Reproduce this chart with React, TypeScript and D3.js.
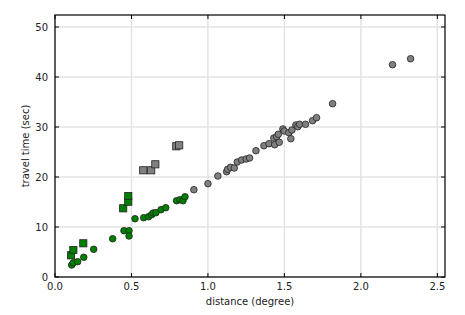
import React from "react";
import * as d3 from "d3";

const greenCircleX = [0.109, 0.12, 0.148, 0.188, 0.253, 0.377, 0.451, 0.484, 0.484, 0.523, 0.58, 0.612, 0.632, 0.642, 0.66, 0.693, 0.724, 0.795, 0.817, 0.837, 0.85];
const greenCircleY = [2.4, 2.86, 3.06, 3.94, 5.54, 7.66, 9.26, 9.26, 8.2, 11.66, 11.86, 12.06, 12.46, 12.8, 12.86, 13.46, 13.86, 15.26, 15.46, 15.26, 16.06];

const greenSquareX = [0.105, 0.12, 0.185, 0.446, 0.479, 0.479];
const greenSquareY = [4.34, 5.4, 6.74, 13.74, 15.06, 16.2];

const graySquareX = [0.577, 0.629, 0.656, 0.793, 0.812];
const graySquareY = [21.34, 21.34, 22.54, 26.14, 26.34];

const grayCircleX = [0.908, 1.0, 1.065, 1.122, 1.129, 1.148, 1.172, 1.192, 1.22, 1.25, 1.272, 1.314, 1.366, 1.399, 1.436, 1.431, 1.449, 1.46, 1.466, 1.49, 1.499, 1.529, 1.542, 1.549, 1.575, 1.588, 1.599, 1.638, 1.684, 1.71, 1.815, 2.207, 2.325];
const grayCircleY = [17.46, 18.66, 20.2, 21.06, 21.54, 21.94, 21.8, 23.0, 23.4, 23.6, 23.8, 25.26, 26.26, 26.66, 26.46, 27.8, 28.06, 28.54, 26.94, 29.6, 29.2, 28.86, 27.66, 29.4, 30.4, 30.06, 30.54, 30.54, 31.26, 31.86, 34.66, 42.46, 43.66];

const xTicks = [0, 0.5, 1.0, 1.5, 2.0, 2.5];
const yTicks = [0, 10, 20, 30, 40, 50];

const W = 465, H = 315;
const L = 55, R = 445, T = 15, B = 277;

export default function App() {
  const x = d3.scaleLinear().domain([0, 2.55]).range([L, R]);
  const y = d3.scaleLinear().domain([0, 52.4]).range([B, T]);
  const font = "DejaVu Sans, sans-serif";
  const stroke = "#222";
  const circles = (xs: number[], ys: number[], fill: string, key: string) =>
    xs.map((v, i) => (
      <circle key={key + i} cx={x(v)} cy={y(ys[i])} r={3.3} fill={fill} stroke={stroke} strokeWidth={0.8} />
    ));
  const squares = (xs: number[], ys: number[], fill: string, key: string) =>
    xs.map((v, i) => (
      <rect key={key + i} x={x(v) - 3.6} y={y(ys[i]) - 3.6} width={7.2} height={7.2} fill={fill} stroke={stroke} strokeWidth={0.8} />
    ));
  return (
    <svg width={W} height={H} style={{ position: "absolute", left: 0, top: 0 }}>
      <rect x={0} y={0} width={W} height={H} fill="#fff" />
      {xTicks.map((t) => (
        <line key={"gx" + t} x1={x(t)} x2={x(t)} y1={T} y2={B} stroke="#e3e3e3" strokeWidth={1.5} />
      ))}
      {yTicks.map((t) => (
        <line key={"gy" + t} x1={L} x2={R} y1={y(t)} y2={y(t)} stroke="#e3e3e3" strokeWidth={1.5} />
      ))}
      {circles(greenCircleX, greenCircleY, "#008000", "gc")}
      {squares(greenSquareX, greenSquareY, "#008000", "gs")}
      {squares(graySquareX, graySquareY, "#808080", "ys")}
      {circles(grayCircleX, grayCircleY, "#808080", "yc")}
      <rect x={L} y={T} width={R - L} height={B - T} fill="none" stroke="#000" strokeWidth={1.2} />
      {xTicks.map((t) => (
        <g key={"xt" + t}>
          <line x1={x(t)} x2={x(t)} y1={B} y2={B - 4} stroke="#000" />
          <line x1={x(t)} x2={x(t)} y1={T} y2={T + 4} stroke="#000" />
          <text x={x(t)} y={B + 13} fontFamily={font} fontSize={10} textAnchor="middle" fill="#222">
            {t.toFixed(1)}
          </text>
        </g>
      ))}
      {yTicks.map((t) => (
        <g key={"yt" + t}>
          <line x1={L} x2={L + 4} y1={y(t)} y2={y(t)} stroke="#000" />
          <line x1={R} x2={R - 4} y1={y(t)} y2={y(t)} stroke="#000" />
          <text x={L - 7} y={y(t) + 3.5} fontFamily={font} fontSize={10} textAnchor="end" fill="#222">
            {t}
          </text>
        </g>
      ))}
      <text x={(L + R) / 2} y={305} fontFamily={font} fontSize={10} textAnchor="middle" fill="#222">
        distance (degree)
      </text>
      <text transform={`translate(29,${(T + B) / 2}) rotate(-90)`} fontFamily={font} fontSize={10} textAnchor="middle" fill="#222">
        travel time (sec)
      </text>
    </svg>
  );
}
